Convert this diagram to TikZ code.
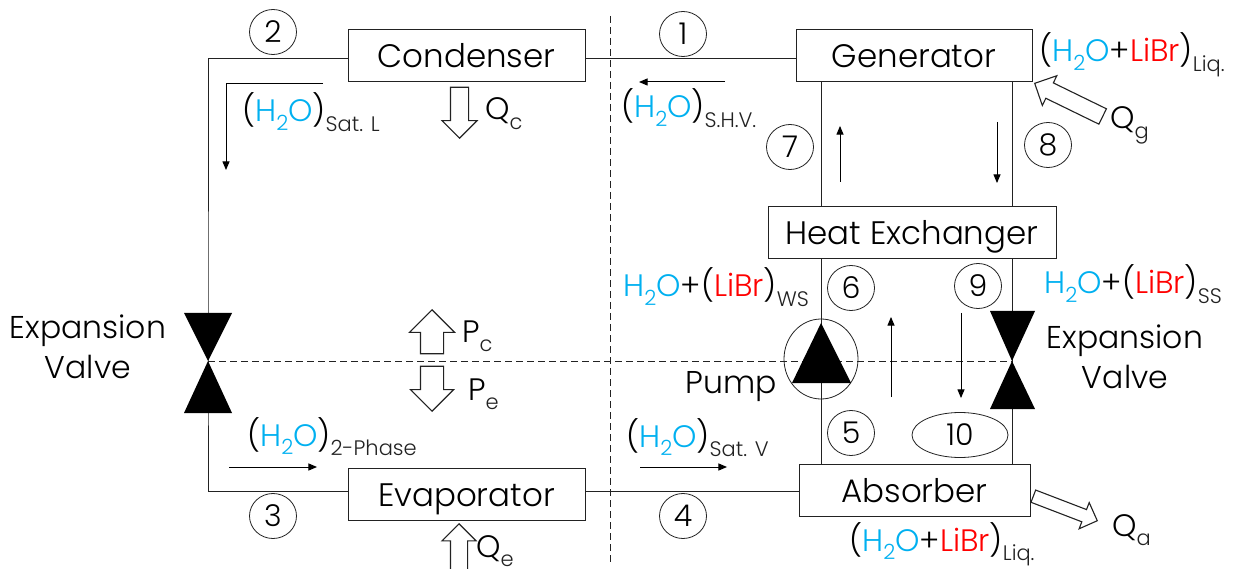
\documentclass[tikz,border=0pt]{standalone}
\usepackage{fontspec}
\setmainfont{Poppins Light}
\usepackage{xcolor}
\usetikzlibrary{shapes.geometric, shapes.arrows, arrows}
\definecolor{waterblue}{HTML}{00B0F0}
\definecolor{linegray}{HTML}{222222}
\newcommand{\water}{\textcolor{waterblue}{H\raisebox{-.28em}{\fontsize{21}{21}\selectfont 2}O}}
\newcommand{\brom}{\textcolor{red}{LiBr}}
\newcommand{\lowtext}[1]{\raisebox{-.3em}{\fontsize{21}{21}\selectfont\textcolor{linegray}{#1}}}
\tikzstyle{unitbox} = [rectangle, draw=linegray, line width=1pt, minimum height=52pt, inner sep=0pt, text height=24pt, text depth=0pt, font=\fontsize{32.5}{34}\selectfont]
\tikzstyle{numcircle} = [ellipse, draw=linegray, line width=.8pt, minimum width=47pt, minimum height=45pt, inner sep=0pt, font=\fontsize{30}{32}\selectfont]
\tikzstyle{streamlabel} = [anchor=base west, inner sep=0pt, font=\fontsize{31}{33}\selectfont]
\tikzstyle{plainlabel} = [inner sep=0pt, align=center, font=\fontsize{31.5}{40}\selectfont]
\tikzstyle{pipe} = [line width=1pt, draw=linegray]
\tikzstyle{flow} = [line width=1pt, ->, >=triangle 45]
\tikzstyle{border} = [line width=1pt, dash pattern=on 7pt off 4pt, draw=linegray]
\tikzstyle{heatarrow} = [single arrow, anchor=tip, draw=linegray, line width=1.1pt, fill=white, inner sep=8.5pt, minimum width=34pt, single arrow head extend=8.5pt]

\begin{document}
\begin{tikzpicture}[x=1pt,y=-1pt]
  \path[use as bounding box] (0,0) rectangle (1234,569);

  % units
  \node (cond) [unitbox, minimum width=237pt] at (466.5,56) {Condenser};
  \node (gen) [unitbox, minimum width=236pt] at (914,55.5) {Generator};
  \node (evap) [unitbox, minimum width=237pt] at (466.5,494) {Evaporator};
  \node (hex) [unitbox, minimum width=288pt] at (912,232.5) {Heat Exchanger};
  \node (abs) [unitbox, minimum width=231pt] at (914.5,490.5) {Absorber};
  \node (pump) [ellipse, draw=linegray, line width=.8pt, minimum width=74pt, minimum height=80pt, inner sep=0pt] at (821,359) {};

  \coordinate (valveL) at (208,361);
  \coordinate (valveR) at (1012,361);
  \coordinate (top2) at (208,59);
  \coordinate (bot3) at (208,491);

  % boundaries
  \coordinate (limT) at (610,16);
  \coordinate (limB) at (610,562);
  \draw [border] (limT) -- (limB);
  \draw [border] (valveL) -- (valveR);

  % pipes
  \draw [pipe] (top2 -| cond.west) -- (top2) -- (valveL) -- (bot3) -- (bot3 -| evap.west);
  \draw [pipe] (top2 -| cond.east) -- (top2 -| gen.west);
  \draw [pipe] (bot3 -| evap.east) -- (bot3 -| abs.west);
  \draw [pipe] (gen.south -| pump) -- (hex.north -| pump);
  \draw [pipe] (hex.south -| pump) -- (pump.south |- abs.north);
  \draw [pipe] (gen.south -| valveR) -- (hex.north -| valveR);
  \draw [pipe] (hex.south -| valveR) -- (abs.north -| valveR);

  % valves and pump
  \fill (valveL) -- ++(-24,-48) -- ++(48,0) -- cycle;
  \fill (valveL) -- ++(-24,52) -- ++(48,0) -- cycle;
  \fill (valveR) -- ++(-22,-50) -- ++(45,0) -- cycle;
  \fill (valveR) -- ++(-22,48) -- ++(45,0) -- cycle;
  \fill (pump.center) ++(0,-36) -- ++(-29,60) -- ++(59,0) -- cycle;

  % state points
  \node (pt1) [numcircle] at (683,34) {1};
  \node (pt2) [numcircle] at (273,32) {2};
  \node (pt3) [numcircle] at (273,516) {3};
  \node (pt4) [numcircle] at (683,516) {4};
  \node (pt5) [numcircle] at (851,433) {5};
  \node (pt6) [numcircle] at (851,288) {6};
  \node (pt7) [numcircle] at (790,147) {7};
  \node (pt8) [numcircle] at (1048,145) {8};
  \node (pt9) [numcircle] at (978,286) {9};
  \node (pt10) [numcircle, minimum width=96pt] at (960,435) {10};

  % flow directions
  \coordinate (satL) at (323,84);
  \coordinate (satLc) at (226,84);
  \coordinate (satLe) at (226,170);
  \draw [flow] (satL) -- (satLc) -- (satLe);
  \coordinate (shvA) at (725,82);
  \coordinate (shvB) at (639,82);
  \draw [flow] (shvA) -- (shvB);
  \coordinate (phA) at (229,467);
  \coordinate (phB) at (317,467);
  \draw [flow] (phA) -- (phB);
  \coordinate (svA) at (640,467);
  \coordinate (svB) at (727,467);
  \draw [flow] (svA) -- (svB);
  \coordinate (upA) at (840,182);
  \coordinate (upB) at (840,126);
  \draw [flow] (upA) -- (upB);
  \coordinate (dnA) at (997,122);
  \coordinate (dnB) at (997,183);
  \draw [flow] (dnA) -- (dnB);
  \coordinate (up2A) at (891,397);
  \coordinate (up2B) at (891,317);
  \draw [flow] (up2A) -- (up2B);
  \coordinate (dn2A) at (961,313);
  \coordinate (dn2B) at (961,398);
  \draw [flow] (dn2A) -- (dn2B);

  % heat and pressure arrows
  \node (qc) [heatarrow, rotate=-90, minimum height=51pt] at (459.5,139) {};
  \node (qe) [heatarrow, rotate=90, minimum height=57pt, minimum width=33pt, inner sep=8pt] at (459,523) {};
  \node (qg) [heatarrow, rotate=154, minimum height=75.6pt, minimum width=32pt, inner sep=8pt, single arrow head extend=8pt] at (1034,83) {};
  \node (qa) [heatarrow, rotate=-21, minimum height=68.5pt, minimum width=27pt, inner sep=6pt, single arrow head extend=7.5pt] at (1098,521) {};
  \node (pc) [heatarrow, rotate=90, minimum height=44pt, minimum width=44pt, inner sep=11pt, single arrow head extend=11pt] at (432,309) {};
  \node (pe) [heatarrow, rotate=-90, minimum height=45pt, minimum width=42pt, inner sep=11pt, single arrow head extend=10pt] at (432,412) {};

  % labels
  \node (lblSatL) [streamlabel] at (242,122) {(\water)\lowtext{Sat. L}};
  \node (lblShv) [streamlabel] at (621,118) {(\water)\lowtext{S.H.V.}};
  \node (lblLiqT) [streamlabel] at (1039,62) {(\water+\brom)\lowtext{Liq.}};
  \node (lblPhase) [streamlabel] at (247,446) {(\water)\lowtext{2-Phase}};
  \node (lblSatV) [streamlabel] at (626,447) {(\water)\lowtext{Sat. V}};
  \node (lblLiqB) [streamlabel] at (849,551) {(\water+\brom)\lowtext{Liq.}};
  \node (lblWs) [streamlabel] at (623,297) {\water+(\brom)\lowtext{WS}};
  \node (lblSs) [streamlabel] at (1044,294) {\water+(\brom)\lowtext{SS}};
  \node (lblQc) [streamlabel] at (485,120) {Q\lowtext{c}};
  \node (lblQg) [streamlabel] at (1110,129) {Q\lowtext{g}};
  \node (lblQa) [streamlabel] at (1112,536) {Q\lowtext{a}};
  \node (lblQe) [streamlabel] at (476,557) {Q\lowtext{e}};
  \node (lblPc) [streamlabel] at (462,342) {P\lowtext{c}};
  \node (lblPe) [streamlabel] at (468,400) {P\lowtext{e}};
  \node (lblPump) [plainlabel] at (731,387) {Pump};
  \node (lblValveL) [plainlabel] at (88,347) {Expansion\\Valve};
  \node (lblValveR) [plainlabel] at (1125,357) {Expansion\\Valve};
\end{tikzpicture}
\end{document}
